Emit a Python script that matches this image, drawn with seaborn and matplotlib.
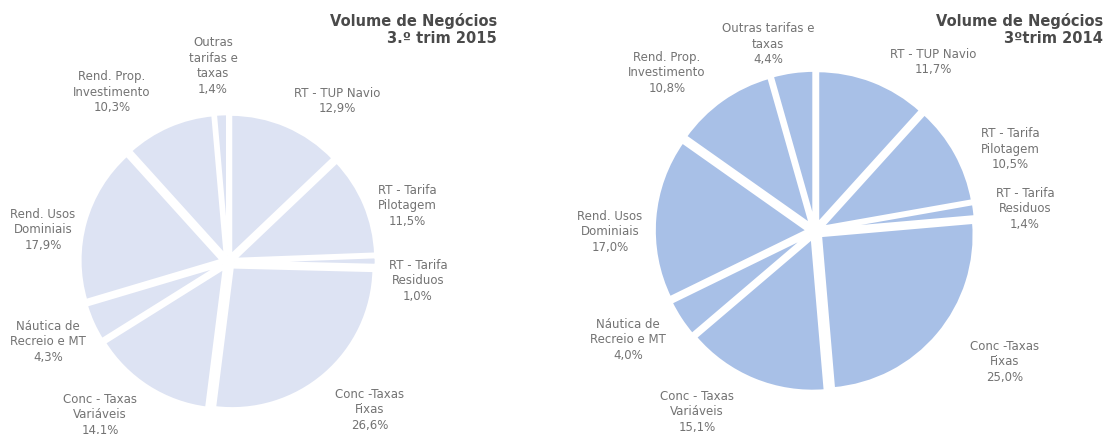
import matplotlib
matplotlib.use("Agg")
import matplotlib.pyplot as plt
import seaborn as sns

# --- data ---
labels_2015 = [
    "RT - TUP Navio", "RT - Tarifa\nPilotagem", "RT - Tarifa\nResiduos",
    "Conc -Taxas\nFixas", "Conc - Taxas\nVariáveis", "Náutica de\nRecreio e MT",
    "Rend. Usos\nDominiais", "Rend. Prop.\nInvestimento", "Outras\ntarifas e\ntaxas",
]
labels_2014 = [
    "RT - TUP Navio", "RT - Tarifa\nPilotagem", "RT - Tarifa\nResiduos",
    "Conc -Taxas\nFixas", "Conc - Taxas\nVariáveis", "Náutica de\nRecreio e MT",
    "Rend. Usos\nDominiais", "Rend. Prop.\nInvestimento", "Outras tarifas e\ntaxas",
]
share_2015 = [12.9, 11.5, 1.0, 26.6, 14.1, 4.3, 17.9, 10.3, 1.4]
share_2014 = [11.7, 10.5, 1.4, 25.0, 15.1, 4.0, 17.0, 10.8, 4.4]
title_2015 = "Volume de Negócios\n3.º trim 2015"
title_2014 = "Volume de Negócios\n3ºtrim 2014"

# --- layout (pixels) ---
W, H = 1112, 435
# label centres relative to pie centre (x right, y up)
offsets_2015 = [(109, 162), (179, 57), (190, -18), (142, -147), (-128, -152),
                (-180, -79), (-185, 33), (-116, 171), (-15, 197)]
offsets_2014 = [(118, 170), (195, 83), (210, 23), (190, -130), (-118, -180),
                (-187, -108), (-205, 0), (-148, 159), (-47, 188)]

sns.set_theme(style="white")
plt.rcParams["font.family"] = ["DejaVu Sans"]

fig = plt.figure(figsize=(W / 100, H / 100), dpi=100)
ax = fig.add_axes([0, 0, 1, 1])

LABEL_COLOR = "#737373"
TITLE_COLOR = "#4a4a4a"


def fmt(names, vals):
    return [n + "\n" + f"{v:.1f}%".replace(".", ",") for n, v in zip(names, vals)]


def draw_pie(vals, names, offsets, center, radius, color):
    # explode is in data units here, so scale it with the radius
    ax.pie(
        vals, center=center, radius=radius,
        startangle=90, counterclock=False, explode=[0.045 * radius] * len(vals),
        colors=[color] * len(vals),
        wedgeprops=dict(edgecolor="white", linewidth=2.5),
    )
    for txt, (dx, dy) in zip(fmt(names, vals), offsets):
        ax.text(center[0] + dx, center[1] + dy, txt, ha="center", va="center",
                fontsize=8.5, color=LABEL_COLOR, linespacing=1.25)


draw_pie(share_2015, labels_2015, offsets_2015, (228, H - 263), 142, "#dde3f3")
draw_pie(share_2014, labels_2014, offsets_2014, (815, H - 232), 154, "#a8c0e7")

ax.text(497, H - 13, title_2015, ha="right", va="top", fontsize=10.5,
        fontweight="bold", color=TITLE_COLOR, linespacing=1.2)
ax.text(1103, H - 13, title_2014, ha="right", va="top", fontsize=10.5,
        fontweight="bold", color=TITLE_COLOR, linespacing=1.2)

ax.set_xlim(0, W)
ax.set_ylim(0, H)
ax.set_aspect("equal")
ax.axis("off")

fig.savefig("out.png", dpi=100, facecolor="white")
